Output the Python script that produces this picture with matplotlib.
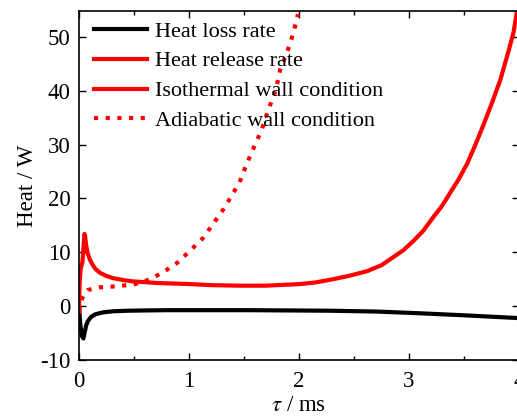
import numpy as np
import matplotlib.pyplot as plt
from matplotlib.lines import Line2D

plt.rcParams['font.family'] = ['Liberation Serif', 'DejaVu Serif']
plt.rcParams['mathtext.fontset'] = 'stix'
plt.rcParams['axes.unicode_minus'] = False

# heat loss rate (isothermal wall)
t_loss = [0.0, 0.01, 0.025, 0.04, 0.05, 0.065, 0.08, 0.11, 0.15, 0.22, 0.31, 0.45, 0.6, 0.8, 1.0, 1.55,
          2.28, 2.7, 3.07, 3.5, 3.98]
q_loss = [0.0, -3.0, -5.5, -6.0, -5.0, -3.6, -2.8, -2.0, -1.5, -1.15, -0.95, -0.85, -0.8, -0.75, -0.75, -0.75,
          -0.85, -1.0, -1.3, -1.7, -2.2]

# heat release rate, isothermal wall
t_iso = [0.0, 0.005, 0.015, 0.03, 0.045, 0.05, 0.055, 0.065, 0.08, 0.1, 0.12, 0.15, 0.19, 0.25, 0.31, 0.4,
         0.49, 0.6, 0.71, 0.85, 1.0, 1.2, 1.46, 1.7, 2.01, 2.15, 2.31, 2.45, 2.62, 2.75, 2.85, 2.95,
         3.04, 3.13, 3.22, 3.3, 3.37, 3.45, 3.53, 3.6, 3.67, 3.75, 3.83, 3.9, 3.95, 3.98]
q_iso = [-1.0, 4.0, 7.0, 8.0, 12.0, 13.4, 13.0, 11.3, 9.7, 8.6, 7.8, 6.9, 6.2, 5.6, 5.2, 4.85,
         4.6, 4.45, 4.3, 4.2, 4.1, 3.9, 3.8, 3.8, 4.1, 4.4, 5.0, 5.6, 6.5, 7.6, 9.0, 10.4,
         12.1, 14.0, 16.5, 18.6, 20.9, 23.5, 26.5, 29.8, 33.3, 37.5, 42.0, 47.0, 50.8, 54.6]

# heat release rate, adiabatic wall
t_adi = [0.0, 0.03, 0.08, 0.19, 0.35, 0.51, 0.65, 0.78, 0.89, 0.99, 1.13, 1.22, 1.31, 1.39, 1.46,
         1.52, 1.59, 1.66, 1.72, 1.79, 1.83, 1.89, 1.95, 1.99]
q_adi = [-1.0, 1.5, 3.0, 3.5, 3.7, 4.1, 5.0, 6.5, 8.0, 9.9, 12.7, 15.3, 17.9, 20.6, 23.0,
         26.2, 29.5, 32.7, 36.4, 40.2, 44.0, 47.0, 50.8, 54.2]

fig = plt.figure(figsize=(5.17, 4.19), dpi=100)
ax = fig.add_axes([79/517, 1 - 360/419, 440/517, 349/419])

lw = 3.0
dots = (0, (1.0, 1.8))
ax.plot(t_loss, q_loss, color='black', lw=lw, solid_joinstyle='round')
ax.plot(t_iso, q_iso, color='red', lw=lw, solid_joinstyle='round')
ax.plot(t_adi, q_adi, color='red', lw=lw, linestyle=dots)

ax.set_xlim(0, 4)
ax.set_ylim(-10, 54.8)
ax.set_xticks([0, 1, 2, 3, 4])
ax.set_xticks(np.arange(0.5, 4, 1.0), minor=True)
ax.set_yticks([-10, 0, 10, 20, 30, 40, 50])
ax.tick_params(which='both', direction='in', top=True, right=True, labelsize=16.5, width=1)
ax.tick_params(axis='x', pad=8)
ax.tick_params(axis='y', pad=6)
ax.tick_params(which='major', length=5)
ax.tick_params(which='minor', length=3)
for s in ax.spines.values():
    s.set_linewidth(1.2)

ax.set_xlabel(r'$\tau$ / ms', fontsize=16.5, labelpad=2)
ax.set_ylabel('Heat / W', fontsize=16.5, labelpad=2)

handles = [
    Line2D([], [], color='black', lw=lw),
    Line2D([], [], color='red', lw=lw),
    Line2D([], [], color='red', lw=lw),
    Line2D([], [], color='red', lw=lw, linestyle=dots),
]
labels = ['Heat loss rate', 'Heat release rate', 'Isothermal wall condition', 'Adiabatic wall condition']
ax.legend(handles, labels, loc='upper left', frameon=False, fontsize=16,
          handlelength=2.35, handletextpad=0.36, labelspacing=0.42,
          borderaxespad=0.05, bbox_to_anchor=(0.012, 1.0))

fig.savefig('out.png', dpi=100)
